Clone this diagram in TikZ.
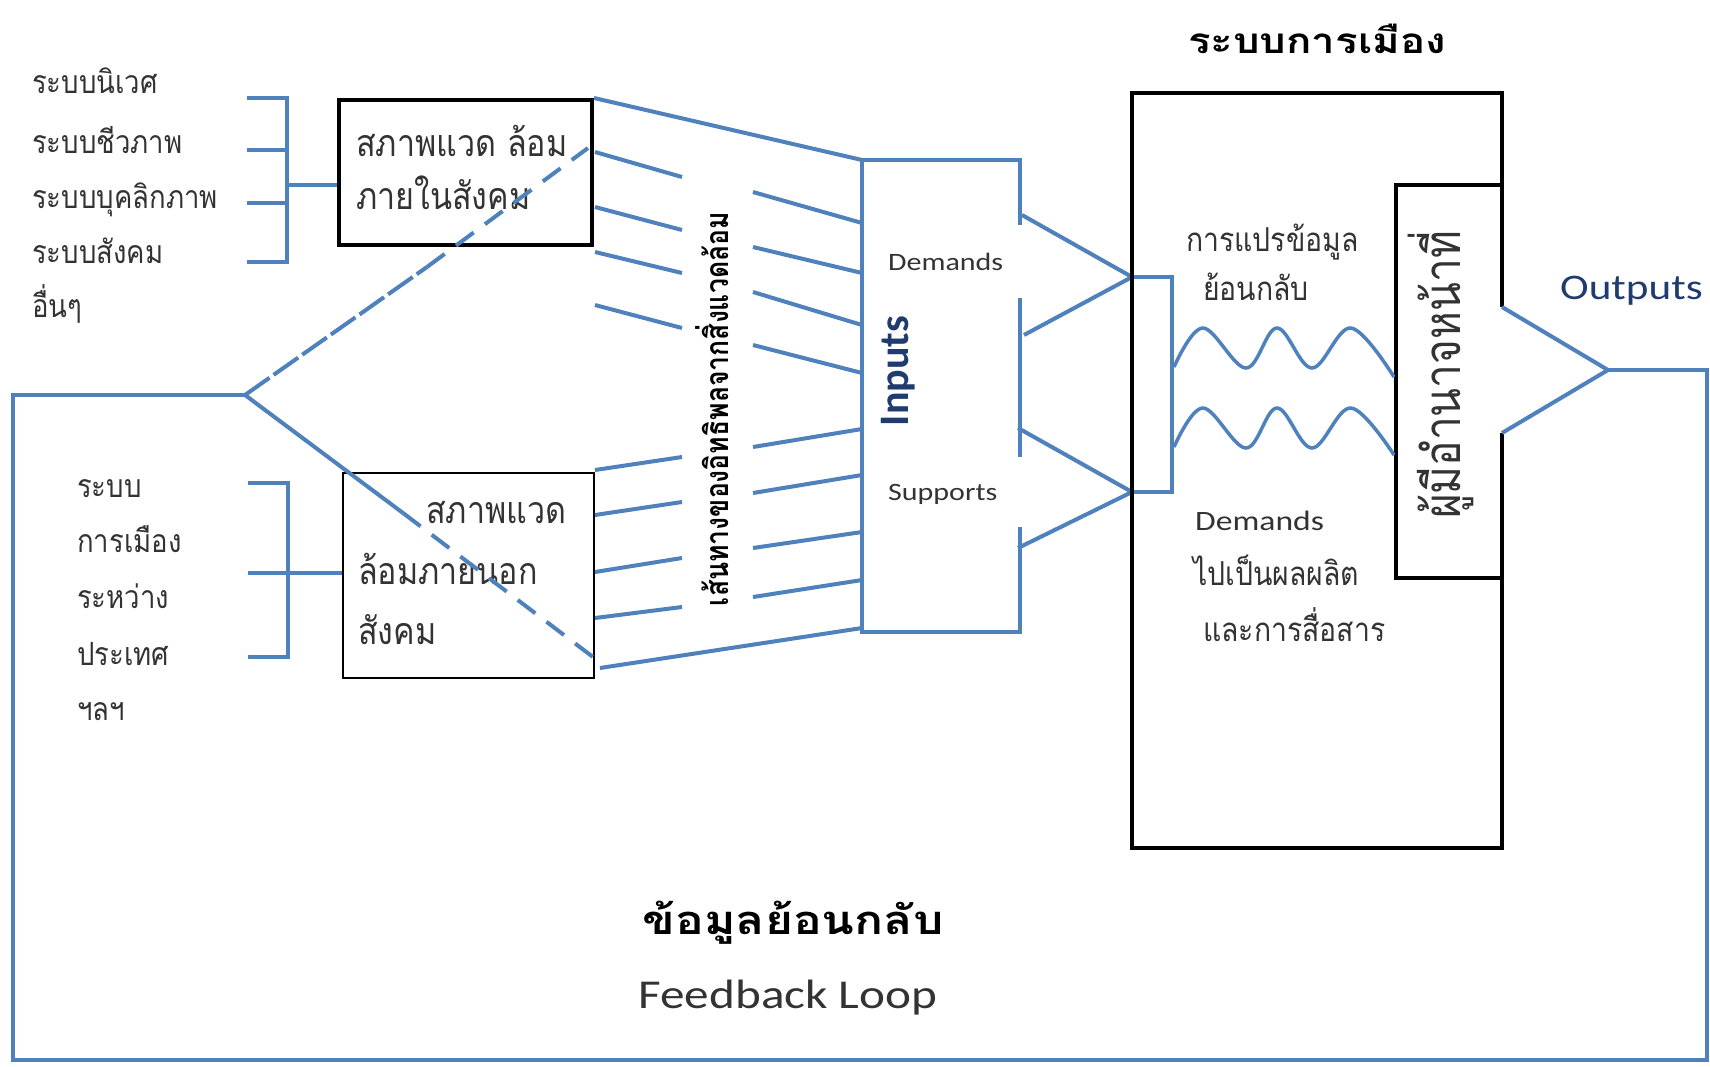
\documentclass[tikz,border=0pt]{standalone}
\usepackage{fontspec}
\newfontfamily\thai[Script=Thai,FakeStretch=0.86]{Loma}
\newfontfamily\thaiwide[Script=Thai,FakeStretch=1.2]{Loma}
\newfontfamily\thaiup[Script=Thai,FakeStretch=0.83]{Loma}
\newfontfamily\en[FakeStretch=1.2]{Carlito}
\newfontfamily\enup{Carlito}
\definecolor{lineblue}{HTML}{4F81BD}
\definecolor{navy}{HTML}{1F3B6F}
\definecolor{ink}{HTML}{333333}
\begin{document}
\begin{tikzpicture}[x=1pt,y=-1pt,
  blue line/.style={draw=lineblue,line width=4pt},
  black box/.style={draw=black,line width=4pt,anchor=north west,inner sep=0pt},
  thin box/.style={draw=black,line width=1.5pt,anchor=north west,inner sep=0pt},
  thtext/.style={text=ink,inner sep=0pt,anchor=base west,font={\thai\fontsize{32}{36}\selectfont}},
  thbox/.style={thtext,font={\thai\fontsize{37.5}{42}\selectfont}},
  thsys/.style={thtext,font={\thai\fontsize{33}{38}\selectfont}},
  entext/.style={text=ink,inner sep=0pt,anchor=base west,font={\en\fontsize{25}{30}\selectfont}},
  dashA/.style={dash pattern=on 30pt off 5pt},
  dashB/.style={dash pattern=on 22pt off 14pt}]
\fill[white] (0,0) rectangle (1710,1066);
\useasboundingbox (0,0) rectangle (1710,1066);
\coordinate (fork) at (245,395);
\coordinate (apexD) at (1132,277);
\coordinate (apexS) at (1132,492);
\coordinate (outtip) at (1608,370);
% title
\node[font={\thaiwide\bfseries\fontsize{35}{40}\selectfont},anchor=base,inner sep=0pt] (title) at (1317,53) {ระบบการเมือง};
% left lists
\node[thtext] (eco) at (32,93) {ระบบนิเวศ};
\node[thtext] (bio) at (32,153) {ระบบชีวภาพ};
\node[thtext] (pers) at (32,208) {ระบบบุคลิกภาพ};
\node[thtext] (soc) at (32,263) {ระบบสังคม};
\node[thtext] (etc) at (32,317) {อื่นๆ};
\node[thtext] (pol1) at (77,497) {ระบบ};
\node[thtext] (pol2) at (77,552) {การเมือง};
\node[thtext] (pol3) at (77,608) {ระหว่าง};
\node[thtext] (pol4) at (77,665) {ประเทศ};
\node[thtext] (pol5) at (77,720) {ฯลฯ};
% brackets
\draw[blue line] (247,98) -- (287,98) -- (287,262) -- (247,262);
\draw[blue line] (247,150) -- (287,150) (247,203) -- (287,203);
\coordinate (brin) at (287,185);
\draw[blue line] (248,483) -- (288,483) -- (288,657) -- (248,657);
\coordinate (brout) at (248,573);
% environment boxes
\node[black box,minimum width=253pt,minimum height=145pt] (envin) at (337,98) {};
\node[thin box,minimum width=251pt,minimum height=205pt] (envout) at (342,472) {};
\draw[blue line] (brin) -- (brin -| envin.west);
\draw[blue line] (brout) -- (brout -| envout.west);
\node[thbox] (envin1) at (356,156) {สภาพแวด ล้อม};
\node[thbox] (envin2) at (356,209) {ภายในสังคม};
\node[thbox] (envout1) at (426,523) {สภาพแวด};
\node[thbox] (envout2) at (358,584) {ล้อมภายนอก};
\node[thbox] (envout3) at (358,644) {สังคม};
% lines of influence
\draw[blue line] (envin.north east) -- (862,160);
\foreach \ya/\yb in {152/177,207/230,252/273,305/328}
  \draw[blue line] (595,\ya) -- (682,\yb);
\foreach \ya/\yb in {192/223,247/273,292/325,345/373}
  \draw[blue line] (753,\ya) -- (862,\yb);
\foreach \ya/\yb in {470/457,515/502,572/558,618/607}
  \draw[blue line] (595,\ya) -- (682,\yb);
\foreach \ya/\yb in {447/429,493/475,548/532,597/580}
  \draw[blue line] (753,\ya) -- (862,\yb);
\draw[blue line] (600,668) -- (862,628);
\node[font={\thaiup\bfseries\fontsize{32}{36}\selectfont},text=black,rotate=90,inner sep=0pt] (path) at (712,409) {เส้นทางของอิทธิพลจากสิ่งแวดล้อม};
% inputs
\draw[blue line] (1020,225) -- (1020,160) -- (862,160) -- (862,632) -- (1020,632) -- (1020,527);
\draw[blue line] (1020,298) -- (1020,457);
\node[font={\enup\bfseries\fontsize{42}{46}\selectfont},text=navy,rotate=90,inner sep=0pt] (inputs) at (898,371) {Inputs};
\node[entext] (dem) at (888,270) {Demands};
\node[entext] (sup) at (888,500) {Supports};
\draw[blue line] (1022,215) -- (apexD) -- (1024,335);
\draw[blue line] (1018,428) -- (apexS) -- (1018,548);
% political system
\draw[blue line] (apexD) rectangle (1172,492);
\draw[line width=4pt] (1502,307) -- (1502,93) -- (1132,93) -- (1132,848) -- (1502,848) -- (1502,433);
\draw[line width=4pt] (1502,185) -- (1396,185) -- (1396,578) -- (1502,578);
\node[font={\thaiup\fontsize{51}{56}\selectfont},text=ink,rotate=90,inner sep=0pt] (auth) at (1441,375) {ผู้มีอำนาจหน้าที่};
\node[thsys] (conv1) at (1186,251) {การแปรข้อมูล};
\node[thsys] (conv2) at (1203,300) {ย้อนกลับ};
\node[entext,font={\en\fontsize{28}{32}\selectfont}] (dem2) at (1195,530) {Demands};
\node[thsys] (conv3) at (1193,585) {ไปเป็นผลผลิต};
\node[thsys] (conv4) at (1203,641) {และการสื่อสาร};
\draw[blue line,line width=3.5pt] plot[smooth,tension=0.6] coordinates {(1174,367) (1203,328) (1246,368) (1277,328) (1312,368) (1351,328) (1394,377)};
\draw[blue line,line width=3.5pt] plot[smooth,tension=0.6] coordinates {(1174,447) (1203,408) (1246,448) (1277,408) (1312,448) (1351,408) (1394,455)};
% outputs
\draw[blue line] (1502,307) -- (outtip) -- (1502,433);
\node[font={\en\fontsize{36}{40}\selectfont},text=navy,anchor=base west,inner sep=0pt] (outputs) at (1560,299) {Outputs};
% feedback loop
\draw[blue line] (outtip) -- (1707,370) -- (1707,1060) -- (13,1060) -- (13,395) -- (fork);
\draw[blue line,dashA] (fork) -- (427,267);
\draw[blue line,dashB] (427,267) -- (588,148);
\draw[blue line] (fork) -- (403,513);
\draw[blue line,dashB] (403,513) -- (593,657);
\node[font={\thaiwide\bfseries\fontsize{40}{44}\selectfont},anchor=base,inner sep=0pt] (fbth) at (793,934) {ข้อมูลย้อนกลับ};
\node[font={\en\fontsize{41}{46}\selectfont},text=ink,anchor=base,inner sep=0pt] (fben) at (788,1008) {Feedback Loop};
\end{tikzpicture}
\end{document}
